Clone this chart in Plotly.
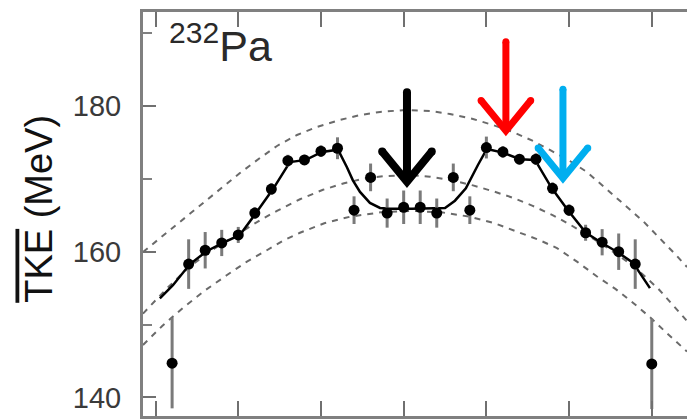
import plotly.graph_objects as go

# ---------------- data ----------------
mass = list(range(102, 132))
tke = [144.7, 158.3, 160.2, 161.2, 162.3, 165.3, 168.6, 172.5, 172.6, 173.8,
       174.2, 165.7, 170.2, 165.3, 166.1, 166.1, 165.3, 170.2, 165.7, 174.3,
       173.7, 172.7, 172.7, 168.7, 165.7, 162.6, 161.3, 160.0, 158.3, 144.6]
tke_err = [6.2, 3.4, 2.5, 1.8, 1.1, 0.8, 0.8, 0.8, 0.7, 0.8,
           1.5, 1.9, 1.9, 2.0, 2.3, 2.3, 2.0, 1.9, 1.9, 1.5,
           0.8, 0.7, 0.8, 0.8, 0.8, 1.1, 1.8, 2.5, 3.4, 6.2]

# solid line through the data
fit_x = [101.26, 102.05, 103.08, 104.11, 105.07, 106.10, 107.07, 108.10, 109.12, 110.09,
         111.06, 112.03, 112.57, 112.93, 113.36, 113.96, 114.57, 115.17, 116.5, 117.89,
         118.5, 119.1, 119.76, 120.49, 121.03, 122.0, 123.03, 123.94, 124.96, 125.93,
         127.02, 127.99, 128.89, 129.86, 130.89]
fit_y = [153.6, 155.4, 158.3, 160.1, 161.2, 162.3, 165.3, 168.6, 172.3, 172.6,
         173.7, 174.0, 171.6, 169.8, 168.2, 166.7, 166.0, 165.9, 165.9, 165.9,
         166.0, 167.0, 168.7, 171.9, 174.1, 173.6, 172.7, 172.6, 168.7, 165.7,
         162.6, 161.2, 160.0, 158.5, 155.0]

# dashed curves
upper_x = [100.24, 101.87, 103.68, 106.10, 107.31, 108.34, 109.55, 110.76, 112.15, 113.36,
           114.57, 116.08, 117.59, 118.80, 120.19, 121.40, 122.61, 123.82, 124.84, 126.05,
           127.08, 128.29, 129.50, 130.47, 131.49, 132.52, 133.13]
upper_y = [159.96, 162.98, 166.41, 170.80, 172.86, 174.51, 176.02, 177.12, 178.08, 178.76,
           179.18, 179.45, 179.31, 178.90, 178.22, 177.39, 176.43, 175.20, 173.96, 172.45,
           170.94, 168.47, 166.14, 164.21, 161.88, 159.41, 157.90]
middle_x = [100.24, 101.7, 103.08, 104.6, 106.10, 107.3, 108.34, 109.73, 111.12, 112.4,
            113.54, 114.75, 116.5, 117.59, 118.9, 120.19, 121.4, 122.61, 123.8, 125.03,
            126.0, 126.96, 128.4, 129.92, 131.4, 132.88, 133.13]
middle_y = [151.5, 155.0, 158.0, 160.5, 162.6, 164.3, 165.6, 167.2, 168.5, 169.4,
            170.0, 170.35, 170.5, 170.3, 169.8, 169.1, 168.3, 167.4, 166.3, 165.0,
            163.8, 162.5, 160.4, 158.0, 154.9, 151.2, 150.5]
lower_x = [100.24, 101.4, 102.66, 104.0, 105.32, 106.5, 107.73, 108.7, 109.73, 111.2,
           112.75, 114.6, 116.5, 118.3, 120.01, 121.5, 123.03, 124.2, 125.27, 126.5,
           127.69, 128.8, 129.86, 130.9, 131.92, 133.13]
lower_y = [147.2, 149.8, 152.3, 154.7, 156.8, 158.6, 160.2, 161.5, 162.6, 163.9,
           164.8, 165.4, 165.6, 165.4, 164.8, 163.9, 162.6, 161.6, 160.5, 158.6,
           156.6, 154.9, 153.0, 151.0, 148.8, 146.3]

# arrows: x position, top of shaft, tip (MeV), colour, width
arrow_x = [116.2, 122.18, 125.63]
arrow_top = [181.9, 188.8, 182.3]
arrow_tip = [169.6, 176.6, 170.1]
arrow_color = ["#000000", "#ff0000", "#00aeef"]
arrow_width = [8, 7, 7]
head_half = 1.5
head_rise = 4.15

x_ticks = [101, 106, 111, 116, 121, 126, 131]

fig = go.Figure()

dash_style = dict(color="#6a6a6a", width=2, dash="6px,6px")
for cx, cy in [(upper_x, upper_y), (middle_x, middle_y), (lower_x, lower_y)]:
    fig.add_trace(go.Scatter(x=cx, y=cy, mode="lines", line=dash_style,
                             showlegend=False, hoverinfo="skip"))

fig.add_trace(go.Scatter(x=fit_x, y=fit_y, mode="lines",
                         line=dict(color="#000000", width=2.5),
                         showlegend=False, hoverinfo="skip"))

fig.add_trace(go.Scatter(x=mass, y=tke, mode="markers",
                         marker=dict(color="#000000", size=11),
                         error_y=dict(type="data", array=tke_err, color="#7a7a7a",
                                      thickness=3, width=0),
                         showlegend=False))

for ax, at, tip, col, w in zip(arrow_x, arrow_top, arrow_tip, arrow_color, arrow_width):
    fig.add_trace(go.Scatter(
        x=[ax, ax, None, ax - head_half, ax, ax + head_half],
        y=[at, tip, None, tip + head_rise, tip, tip + head_rise],
        mode="lines", line=dict(color=col, width=w),
        showlegend=False, hoverinfo="skip"))
    fig.add_trace(go.Scatter(
        x=[ax, ax - head_half, ax + head_half],
        y=[at, tip + head_rise, tip + head_rise],
        mode="markers", marker=dict(color=col, size=w),
        showlegend=False, hoverinfo="skip"))

axis_col = "#808080"
sans = "Liberation Sans, Arial"

fig.update_xaxes(range=[100.24, 133.13], showgrid=False, zeroline=False,
                 showline=True, linecolor=axis_col, linewidth=3, mirror="ticks",
                 ticks="inside", tickvals=x_ticks, ticklen=15, tickwidth=2,
                 tickcolor="#707070", showticklabels=False)
fig.update_yaxes(range=[137.45, 192.9], showgrid=False, zeroline=False,
                 showline=True, linecolor=axis_col, linewidth=3, mirror=False,
                 ticks="inside", tick0=140, dtick=20, ticklen=13, tickwidth=2,
                 tickcolor="#707070", ticklabelstandoff=13,
                 tickfont=dict(family=sans, size=29, color="#3a3a3a"),
                 minor=dict(ticks="inside", dtick=10, tick0=140, ticklen=9,
                            tickwidth=2, tickcolor="#808080"))

fig.add_annotation(xref="paper", yref="paper", x=0.044, y=0.995,
                   xanchor="left", yanchor="top", showarrow=False,
                   text="<sup>232</sup>Pa",
                   font=dict(family=sans, size=43, color="#2a2a2a"))

fig.add_annotation(xref="paper", yref="paper", x=-0.19, y=0.512,
                   xanchor="center", yanchor="middle", showarrow=False,
                   textangle=-90,
                   text='<span style="text-decoration:overline">TKE</span> (MeV)',
                   font=dict(family=sans, size=38, color="#111111"))

fig.update_layout(width=687, height=419,
                  margin=dict(l=143, r=0, t=12, b=3, autoexpand=False),
                  paper_bgcolor="white", plot_bgcolor="white")

fig.write_html("out.html")
